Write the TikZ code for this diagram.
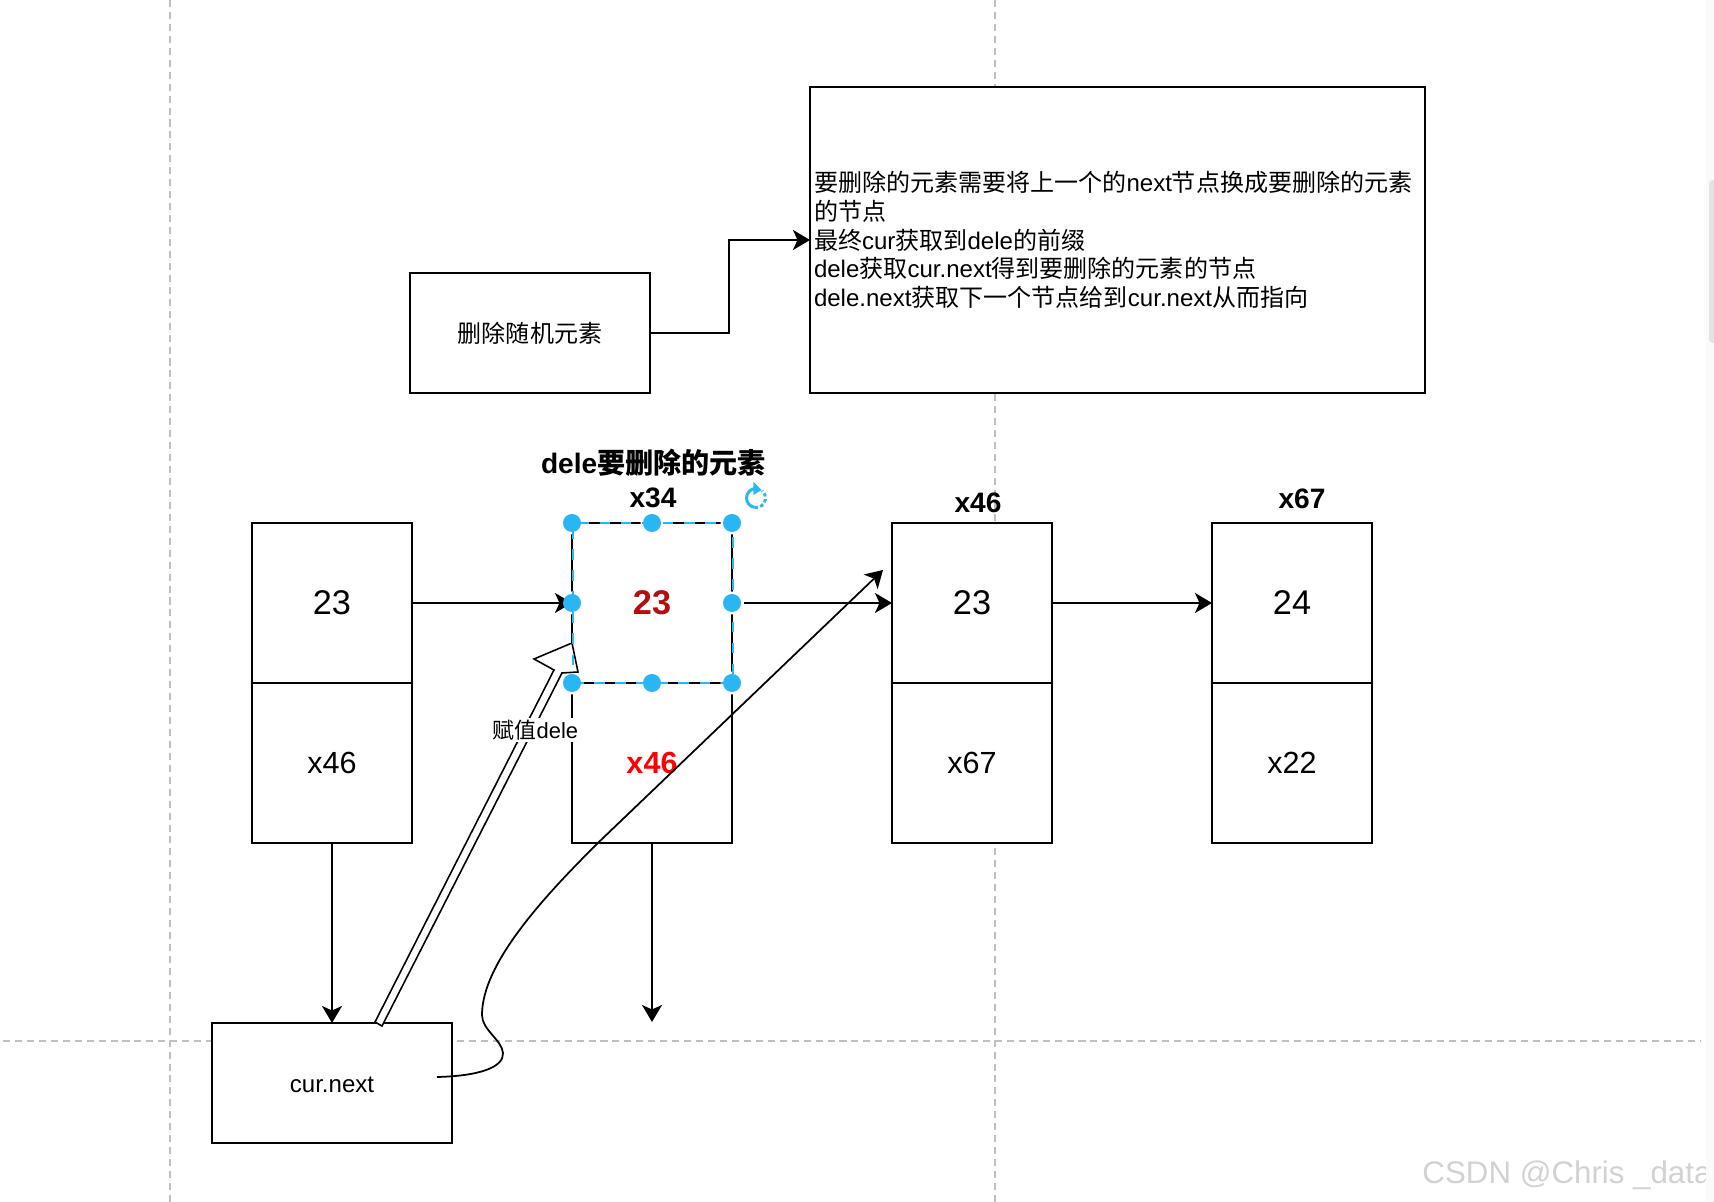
\documentclass[tikz,border=0pt]{standalone}
\usepackage{fontspec}
\setmainfont{Liberation Sans}
\newfontfamily\cjk{Noto Sans CJK SC}
\usetikzlibrary{arrows.meta, calc}
\definecolor{selblue}{HTML}{29B6F2}
\definecolor{guidegray}{HTML}{C0C0C0}
\definecolor{darkred}{HTML}{B20F0F}
\newcommand{\cn}[1]{{\cjk #1}}
\begin{document}
\begin{tikzpicture}[
    every node/.style={font=\fontsize{6.84}{8.2}\selectfont},
    box/.style={draw, fill=white, line width=0.6pt, inner sep=0pt, outer sep=0pt, align=center},
    cellbox/.style={box, minimum width=1.6cm, minimum height=1.6cm},
    wide/.style={box, minimum width=2.4cm, minimum height=1.2cm},
    numtext/.style={font=\fontsize{9.75}{11}\selectfont},
    addrtext/.style={font=\fontsize{8.7}{10}\selectfont},
    title/.style={font=\fontsize{8}{10}\selectfont\bfseries, inner sep=0pt},
    handle/.style={circle, fill=selblue, minimum size=0.18cm, inner sep=0pt},
    halo/.style={circle, fill=white, minimum size=0.23cm, inner sep=0pt},
    guide/.style={guidegray, line width=0.57pt, dash pattern=on 2pt off 1.4pt},
    arrow/.style={-{Stealth[length=1.7mm, width=2mm, inset=0.45mm]}, line width=0.6pt},
    hollow/.style={draw, fill=white, line width=0.45pt, line join=miter},
    thin curve/.style={line width=0.5pt}
]
\useasboundingbox (0, 0) rectangle (17.14, -12.02);

% Guides behind everything
\draw[guide] (1.695, 0) -- (1.695, -12.02);
\draw[guide] (9.95, 0) -- (9.95, -12.02);
\draw[guide] (0.03, -10.415) -- (17.01, -10.415);

% Top: description
\node[box, minimum height=3.06cm, text width=6.07cm, inner xsep=0.04cm, align=left] (note) at (11.175, -2.40)
    {\cn{要删除的元素需要将上一个的}next\cn{节点换成要删除的元素}\\
     \cn{的节点}\\
     \cn{最终}cur\cn{获取到}dele\cn{的前缀}\\
     dele\cn{获取}cur.next\cn{得到要删除的元素的节点}\\
     dele.next\cn{获取下一个节点给到}cur.next\cn{从而指向}};
\node[wide] (task) at (5.30, -3.33) {\cn{删除随机元素}};
\draw[arrow] (task.east) -- ++(0.79, 0) |- (note.west);

% List cells
\node[cellbox, numtext] (a1) at (3.32, -6.03) {23};
\node[cellbox, addrtext] (a2) at (3.32, -7.63) {x46};
\node[cellbox, numtext, text=darkred, font=\fontsize{9.75}{11}\selectfont\bfseries] (b1) at (6.52, -6.03) {23};
\node[cellbox, addrtext, text=red, font=\fontsize{8.7}{10}\selectfont\bfseries] (b2) at (6.52, -7.63) {x46};
\node[cellbox, numtext] (c1) at (9.72, -6.03) {23};
\node[cellbox, addrtext] (c2) at (9.72, -7.63) {x67};
\node[cellbox, numtext] (d1) at (12.92, -6.03) {24};
\node[cellbox, addrtext] (d2) at (12.92, -7.63) {x22};

% Titles
\node[title] (deletitle) at (6.535, -4.63) {dele\cn{要删除的元素}};
\node[title] (xb) at (6.53, -4.98) {x34};
\node[title] (xc) at (9.78, -5.03) {x46};
\node[title] (xd) at (13.02, -4.985) {x67};

% Bottom
\node[wide, text height=5.6pt] (curnext) at (3.32, -10.83) {cur.next};
\coordinate (drop) at (6.52, -10.22);
\coordinate (curvestart) at (4.37, -10.77);
\coordinate (curveend) at (8.83, -5.70);

% Halos clear the lines around the selection
\foreach \anc/\nm in {north west/hnw, north/hn, north east/hne, west/hw, east/he, south west/hsw, south/hs, south east/hse}
    \node[halo] (halo\nm) at (b1.\anc) {};

% Links
\draw[arrow] (a1.east) -- (b1.west);
\draw[arrow] (halohe.east) -- (c1.west);
\draw[arrow] (c1.east) -- (d1.west);
\draw[arrow] (a2.south) -- (curnext.north);
\draw[arrow] (b2.south) -- (drop);

% Assignment arrow
\draw[hollow] ($(curnext.north)+(0.43,0.01)$) -- (5.54, -6.70) -- (5.34, -6.59) -- (5.72, -6.43)
    -- (5.78, -6.72) -- (5.62, -6.73) -- ($(curnext.north)+(0.50,-0.03)$) -- cycle;
\node[fill=white, inner sep=0.5pt, font=\fontsize{6.24}{8}\selectfont] (assign) at (5.355, -7.30) {\cn{赋值}dele};

% Curved link
\draw[arrow, thin curve] (curvestart) .. controls (4.80, -10.76) and (5.04, -10.67) .. (5.03, -10.53)
    .. controls (5.02, -10.40) and (4.82, -10.30) .. (4.82, -10.15)
    .. controls (4.82, -9.65) and (5.40, -9.00) .. (6.01, -8.40) -- (curveend);

% Selection overlay
\node[draw=selblue, dashed, line width=0.5pt, minimum width=1.6cm, minimum height=1.6cm, xshift=0.3pt] (sel) at (b1) {};
\foreach \anc/\nm in {north west/hnw, north/hn, north east/hne, west/hw, east/he, south west/hsw, south/hs, south east/hse}
    \node[handle] (\nm) at (b1.\anc) {};

% Rotate icon
\coordinate (rot) at (7.56, -4.98);
\draw[selblue, line width=0.85pt] (rot) ++(90:0.095) arc (90:260:0.095);
\draw[selblue, line width=0.85pt, dash pattern=on 1pt off 0.7pt] (rot) ++(260:0.095) arc (260:410:0.095);
\fill[selblue] (7.533, -4.817) -- (7.617, -4.90) -- (7.533, -4.95) -- cycle;

% Watermark and scrollbar of the screenshot
\node[text=gray!35, font=\fontsize{8.9}{10}\selectfont, inner sep=0pt] (mark) at (15.67, -11.75) {CSDN @Chris \_data};
\fill[gray!4] (17.06, 0) rectangle (17.14, -12.02);
\fill[gray!22, rounded corners=0.04cm] (17.09, -1.80) rectangle (17.20, -3.43);

\end{tikzpicture}
\end{document}
